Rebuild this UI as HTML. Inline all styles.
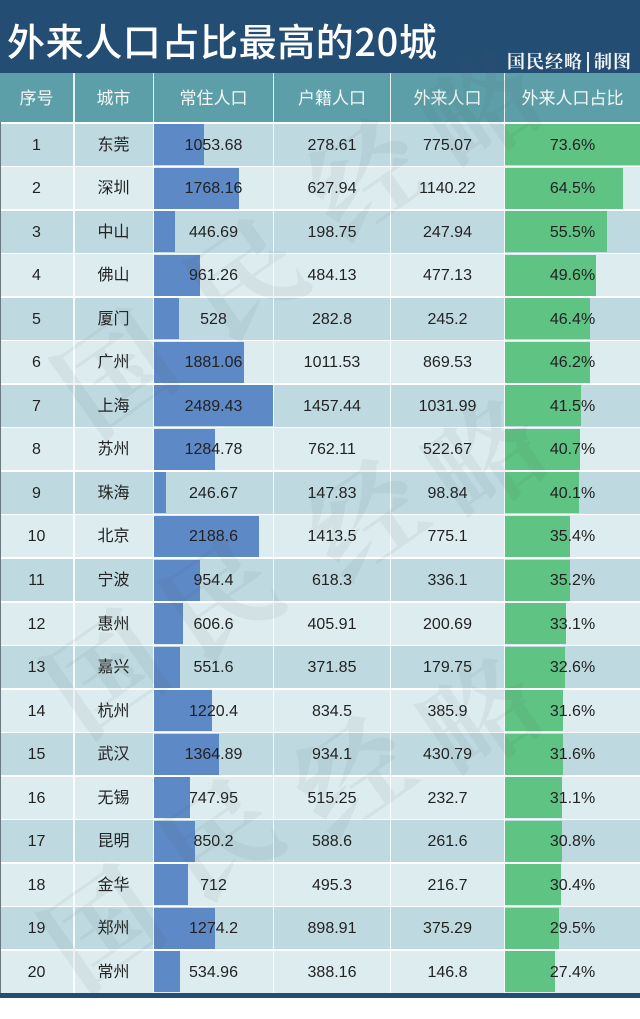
<!DOCTYPE html>
<html>
<head>
<meta charset="utf-8">
<style>
html,body{margin:0;padding:0;}
body{width:640px;height:998px;position:relative;overflow:hidden;background:#ffffff;font-family:"Liberation Sans","Noto Sans CJK SC",sans-serif;}
.top{position:absolute;left:0;top:0;width:640px;height:73px;background:#244d74;}
.title{position:absolute;left:7px;top:12px;font-size:38px;line-height:56px;color:#fff;font-weight:500;letter-spacing:0.6px;font-family:"Noto Sans CJK SC",sans-serif;white-space:nowrap;}
.sub{position:absolute;left:507px;top:51px;font-size:18px;line-height:22px;color:#f2f4f6;font-weight:bold;font-family:"Liberation Serif","Noto Serif CJK SC",serif;letter-spacing:1px;white-space:nowrap;}
.sub .bar{display:inline-block;width:2px;height:20px;background:#e8ecf0;vertical-align:-4px;margin:0 5px 0 4px;}
.hdr{position:absolute;left:0;top:73px;width:640px;height:48.5px;background:#5c9fa9;}
.hc{position:absolute;top:73px;height:49px;line-height:52px;text-align:center;color:#f4f8f8;font-size:17px;font-family:"Liberation Sans","Noto Sans CJK SC",sans-serif;}
.row{position:absolute;left:0;width:640px;height:42px;}
.odd{background:#bedae0;}
.even{background:#ddedef;}
.c{position:absolute;top:0;height:42px;line-height:43px;text-align:center;color:#222;font-size:16px;}
.b{position:absolute;left:154px;top:0.5px;height:41px;background:#5d89c6;}
.g{position:absolute;left:505px;top:0.5px;height:41px;background:#5ec383;}
.vl{position:absolute;top:73px;width:1.5px;height:920px;background:rgba(255,255,255,0.85);}
.foot{position:absolute;left:0;top:993px;width:640px;height:5px;background:#244d74;}
.wm{position:absolute;font-size:112px;line-height:112px;color:rgba(80,95,95,0.075);font-family:"Liberation Serif","Noto Serif CJK SC",serif;font-weight:bold;transform:rotate(-35deg);width:120px;height:120px;text-align:center;}
.c1{left:0;width:73px;}
.c2{left:74px;width:79px;}
.c3{left:154px;width:119px;}
.c4{left:274px;width:116px;}
.c5{left:391px;width:113px;}
.c6{left:505px;width:135px;}
</style>
</head>
<body>
<div class="top"></div>
<div class="title">外来人口占比最高的20城</div>
<div class="sub">国民经略<span class="bar"></span>制图</div>
<div class="hdr"></div>
<div class="hc c1">序号</div>
<div class="hc c2">城市</div>
<div class="hc c3">常住人口</div>
<div class="hc c4">户籍人口</div>
<div class="hc c5">外来人口</div>
<div class="hc c6">外来人口占比</div>

<div class="row odd" style="top:123.5px"><div class="b" style="width:50.4px"></div><div class="g" style="width:135px"></div><div class="c c1">1</div><div class="c c2">东莞</div><div class="c c3">1053.68</div><div class="c c4">278.61</div><div class="c c5">775.07</div><div class="c c6">73.6%</div></div>
<div class="row even" style="top:167.05px"><div class="b" style="width:84.5px"></div><div class="g" style="width:118.3px"></div><div class="c c1">2</div><div class="c c2">深圳</div><div class="c c3">1768.16</div><div class="c c4">627.94</div><div class="c c5">1140.22</div><div class="c c6">64.5%</div></div>
<div class="row odd" style="top:210.6px"><div class="b" style="width:21.4px"></div><div class="g" style="width:101.8px"></div><div class="c c1">3</div><div class="c c2">中山</div><div class="c c3">446.69</div><div class="c c4">198.75</div><div class="c c5">247.94</div><div class="c c6">55.5%</div></div>
<div class="row even" style="top:254.15px"><div class="b" style="width:46px"></div><div class="g" style="width:91px"></div><div class="c c1">4</div><div class="c c2">佛山</div><div class="c c3">961.26</div><div class="c c4">484.13</div><div class="c c5">477.13</div><div class="c c6">49.6%</div></div>
<div class="row odd" style="top:297.7px"><div class="b" style="width:25.2px"></div><div class="g" style="width:85.1px"></div><div class="c c1">5</div><div class="c c2">厦门</div><div class="c c3">528</div><div class="c c4">282.8</div><div class="c c5">245.2</div><div class="c c6">46.4%</div></div>
<div class="row even" style="top:341.25px"><div class="b" style="width:89.9px"></div><div class="g" style="width:84.7px"></div><div class="c c1">6</div><div class="c c2">广州</div><div class="c c3">1881.06</div><div class="c c4">1011.53</div><div class="c c5">869.53</div><div class="c c6">46.2%</div></div>
<div class="row odd" style="top:384.8px"><div class="b" style="width:119px"></div><div class="g" style="width:76.1px"></div><div class="c c1">7</div><div class="c c2">上海</div><div class="c c3">2489.43</div><div class="c c4">1457.44</div><div class="c c5">1031.99</div><div class="c c6">41.5%</div></div>
<div class="row even" style="top:428.35px"><div class="b" style="width:61.4px"></div><div class="g" style="width:74.7px"></div><div class="c c1">8</div><div class="c c2">苏州</div><div class="c c3">1284.78</div><div class="c c4">762.11</div><div class="c c5">522.67</div><div class="c c6">40.7%</div></div>
<div class="row odd" style="top:471.9px"><div class="b" style="width:11.8px"></div><div class="g" style="width:73.6px"></div><div class="c c1">9</div><div class="c c2">珠海</div><div class="c c3">246.67</div><div class="c c4">147.83</div><div class="c c5">98.84</div><div class="c c6">40.1%</div></div>
<div class="row even" style="top:515.45px"><div class="b" style="width:104.6px"></div><div class="g" style="width:64.9px"></div><div class="c c1">10</div><div class="c c2">北京</div><div class="c c3">2188.6</div><div class="c c4">1413.5</div><div class="c c5">775.1</div><div class="c c6">35.4%</div></div>
<div class="row odd" style="top:559px"><div class="b" style="width:45.6px"></div><div class="g" style="width:64.6px"></div><div class="c c1">11</div><div class="c c2">宁波</div><div class="c c3">954.4</div><div class="c c4">618.3</div><div class="c c5">336.1</div><div class="c c6">35.2%</div></div>
<div class="row even" style="top:602.55px"><div class="b" style="width:29px"></div><div class="g" style="width:60.7px"></div><div class="c c1">12</div><div class="c c2">惠州</div><div class="c c3">606.6</div><div class="c c4">405.91</div><div class="c c5">200.69</div><div class="c c6">33.1%</div></div>
<div class="row odd" style="top:646.1px"><div class="b" style="width:26.4px"></div><div class="g" style="width:59.8px"></div><div class="c c1">13</div><div class="c c2">嘉兴</div><div class="c c3">551.6</div><div class="c c4">371.85</div><div class="c c5">179.75</div><div class="c c6">32.6%</div></div>
<div class="row even" style="top:689.65px"><div class="b" style="width:58.3px"></div><div class="g" style="width:58px"></div><div class="c c1">14</div><div class="c c2">杭州</div><div class="c c3">1220.4</div><div class="c c4">834.5</div><div class="c c5">385.9</div><div class="c c6">31.6%</div></div>
<div class="row odd" style="top:733.2px"><div class="b" style="width:65.2px"></div><div class="g" style="width:58px"></div><div class="c c1">15</div><div class="c c2">武汉</div><div class="c c3">1364.89</div><div class="c c4">934.1</div><div class="c c5">430.79</div><div class="c c6">31.6%</div></div>
<div class="row even" style="top:776.75px"><div class="b" style="width:35.8px"></div><div class="g" style="width:57px"></div><div class="c c1">16</div><div class="c c2">无锡</div><div class="c c3">747.95</div><div class="c c4">515.25</div><div class="c c5">232.7</div><div class="c c6">31.1%</div></div>
<div class="row odd" style="top:820.3px"><div class="b" style="width:40.6px"></div><div class="g" style="width:56.5px"></div><div class="c c1">17</div><div class="c c2">昆明</div><div class="c c3">850.2</div><div class="c c4">588.6</div><div class="c c5">261.6</div><div class="c c6">30.8%</div></div>
<div class="row even" style="top:863.85px"><div class="b" style="width:34px"></div><div class="g" style="width:55.8px"></div><div class="c c1">18</div><div class="c c2">金华</div><div class="c c3">712</div><div class="c c4">495.3</div><div class="c c5">216.7</div><div class="c c6">30.4%</div></div>
<div class="row odd" style="top:907.4px"><div class="b" style="width:60.9px"></div><div class="g" style="width:54.1px"></div><div class="c c1">19</div><div class="c c2">郑州</div><div class="c c3">1274.2</div><div class="c c4">898.91</div><div class="c c5">375.29</div><div class="c c6">29.5%</div></div>
<div class="row even" style="top:950.95px"><div class="b" style="width:25.6px"></div><div class="g" style="width:50.3px"></div><div class="c c1">20</div><div class="c c2">常州</div><div class="c c3">534.96</div><div class="c c4">388.16</div><div class="c c5">146.8</div><div class="c c6">27.4%</div></div>

<div class="vl" style="left:73px"></div>
<div class="vl" style="left:152.5px"></div>
<div class="vl" style="left:272.5px"></div>
<div class="vl" style="left:389.5px"></div>
<div class="vl" style="left:503.5px"></div>
<div style="position:absolute;left:0;top:122px;width:1px;height:871px;background:#6a7a80;"></div>
<div class="foot"></div>

<div class="wm" style="left:60px;top:320px">国</div>
<div class="wm" style="left:190px;top:225px">民</div>
<div class="wm" style="left:310px;top:125px">经</div>
<div class="wm" style="left:425px;top:55px">略</div>

<div class="wm" style="left:50px;top:620px">国</div>
<div class="wm" style="left:165px;top:545px">民</div>
<div class="wm" style="left:310px;top:465px">经</div>
<div class="wm" style="left:430px;top:405px">略</div>

<div class="wm" style="left:47px;top:875px">国</div>
<div class="wm" style="left:165px;top:785px">民</div>
<div class="wm" style="left:297px;top:722px">经</div>
<div class="wm" style="left:425px;top:663px">略</div>
</body>
</html>
